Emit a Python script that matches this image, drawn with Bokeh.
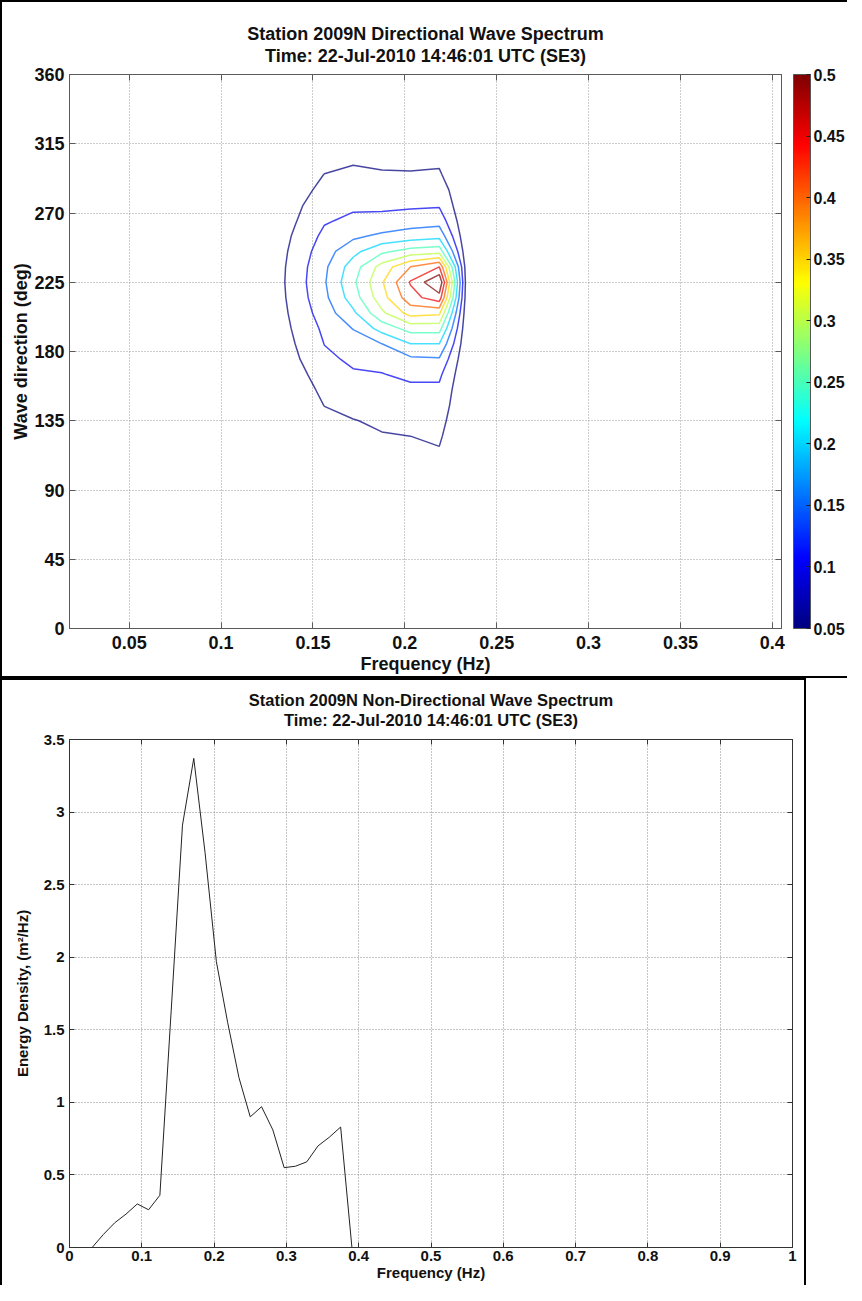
import numpy as np
from bokeh.plotting import figure
from bokeh.layouts import column
from bokeh.models import (LinearAxis, FixedTicker, CustomJSTickFormatter, ColorBar,
                          LinearColorMapper, Title, Range1d)
from bokeh.embed import file_html
from bokeh.resources import INLINE

FONT = "Liberation Sans"

# ---------------- Directional spectrum (top) ----------------
dir_freq = [0.109375, 0.125, 0.140625, 0.15625, 0.171875, 0.1875, 0.203125, 0.21875, 0.234375]
dir_deg = [95, 105, 115, 125, 135, 145, 155, 165, 175, 185, 195, 205,
           215, 225, 235, 245, 255, 265, 275, 285, 295, 305, 315, 325]
# one list per frequency column, values along dir_deg
col_0109 = [0.0] * 24
col_0125 = [0, 0, 0, 0, 0, 0, 0, 0.002, 0.004, 0.006, 0.008, 0.009,
            0.010, 0.011, 0.010, 0.009, 0.007, 0.005, 0.003, 0.001, 0, 0, 0, 0]
col_0141 = [0, 0, 0, 0, 0.005, 0.012, 0.022, 0.032, 0.043, 0.051, 0.058, 0.065,
            0.071, 0.074, 0.072, 0.066, 0.058, 0.048, 0.040, 0.028, 0.015, 0.005, 0, 0]
col_0156 = [0, 0.005, 0.012, 0.022, 0.035, 0.051, 0.062, 0.075, 0.090, 0.101, 0.110, 0.125,
            0.138, 0.145, 0.140, 0.128, 0.112, 0.095, 0.080, 0.065, 0.051, 0.030, 0.015, 0.005]
col_0172 = [0.010, 0.018, 0.025, 0.035, 0.048, 0.066, 0.082, 0.095, 0.108, 0.125, 0.152, 0.190,
            0.225, 0.240, 0.225, 0.185, 0.140, 0.110, 0.092, 0.078, 0.062, 0.042, 0.022, 0.010]
col_0188 = [0.018, 0.028, 0.038, 0.047, 0.058, 0.072, 0.085, 0.098, 0.115, 0.150, 0.220, 0.290,
            0.330, 0.345, 0.320, 0.240, 0.160, 0.115, 0.090, 0.070, 0.055, 0.038, 0.025, 0.012]
col_0203 = [0.020, 0.030, 0.040, 0.050, 0.062, 0.075, 0.090, 0.110, 0.140, 0.200, 0.270, 0.370,
            0.430, 0.455, 0.400, 0.270, 0.175, 0.125, 0.092, 0.070, 0.053, 0.040, 0.030, 0.015]
col_0219 = [0.025, 0.035, 0.047, 0.056, 0.066, 0.078, 0.090, 0.110, 0.145, 0.200, 0.270, 0.360,
            0.480, 0.550, 0.450, 0.280, 0.185, 0.130, 0.095, 0.075, 0.055, 0.042, 0.035, 0.020]
col_0234 = [0.0] * 24

levels = [0.05, 0.1, 0.15, 0.2, 0.25, 0.3, 0.35, 0.4, 0.45, 0.5]
top_xticks = [0.05, 0.1, 0.15, 0.2, 0.25, 0.3, 0.35, 0.4]
top_yticks = [0, 45, 90, 135, 180, 225, 270, 315, 360]
top_title = ["Station 2009N Directional Wave Spectrum",
             "Time: 22-Jul-2010 14:46:01 UTC (SE3)"]

# ---------------- Non-directional spectrum (bottom) ----------------
nd_freq = [0.03125, 0.046875, 0.0625, 0.078125, 0.09375, 0.109375, 0.125, 0.140625,
           0.15625, 0.171875, 0.1875, 0.203125, 0.21875, 0.234375, 0.25, 0.265625,
           0.28125, 0.296875, 0.3125, 0.328125, 0.34375, 0.359375, 0.375, 0.390625]
nd_energy = [0.0, 0.09, 0.17, 0.23, 0.30, 0.26, 0.36, 1.63,
             2.91, 3.37, 2.72, 1.97, 1.55, 1.17, 0.90, 0.97,
             0.81, 0.55, 0.56, 0.59, 0.70, 0.76, 0.83, 0.0]
bot_xticks = [0, 0.1, 0.2, 0.3, 0.4, 0.5, 0.6, 0.7, 0.8, 0.9, 1.0]
bot_yticks = [0, 0.5, 1, 1.5, 2, 2.5, 3, 3.5]
bot_title = ["Station 2009N Non-Directional Wave Spectrum",
             "Time: 22-Jul-2010 14:46:01 UTC (SE3)"]


def jet(t):
    t = min(max(t, 0.0), 1.0)
    r = min(max(1.5 - abs(4 * t - 3), 0), 1)
    g = min(max(1.5 - abs(4 * t - 2), 0), 1)
    b = min(max(1.5 - abs(4 * t - 1), 0), 1)
    return "#%02x%02x%02x" % (int(round(r * 255)), int(round(g * 255)), int(round(b * 255)))


palette = [jet(i / 255) for i in range(256)]
level_colors = [jet((L - levels[0]) / (levels[-1] - levels[0])) for L in levels]

fmt_code = "return (Math.round(tick*1000)/1000).toString();"


def style_axis(ax, size, tick_in, color):
    ax.major_label_text_font = FONT
    ax.major_label_text_font_size = size
    ax.major_label_text_font_style = "bold"
    ax.major_label_text_color = "#111111"
    ax.axis_label_text_font = FONT
    ax.axis_label_text_font_size = size
    ax.axis_label_text_font_style = "bold"
    ax.axis_label_text_color = "#111111"
    ax.major_tick_in = tick_in
    ax.major_tick_out = 0
    ax.minor_tick_in = 0
    ax.minor_tick_out = 0
    ax.axis_line_color = color
    ax.major_tick_line_color = color
    ax.formatter = CustomJSTickFormatter(code=fmt_code)


def mirror_axis(ticks, tick_in, color):
    # tick marks only (MATLAB box style); labels are not drawn
    ax = LinearAxis(ticker=FixedTicker(ticks=ticks))
    ax.major_label_text_font_size = "1px"
    ax.major_label_text_color = None
    ax.major_label_standoff = 0
    ax.major_tick_in = tick_in
    ax.major_tick_out = 0
    ax.minor_tick_in = 0
    ax.minor_tick_out = 0
    ax.axis_line_color = color
    ax.major_tick_line_color = color
    return ax


def add_titles(p, lines, size, lift):
    # second line closest to the frame, first line above it
    p.add_layout(Title(text=lines[1], align="center", text_font=FONT,
                       text_font_size=size, text_font_style="bold",
                       text_color="#111111", standoff=lift), "above")
    p.add_layout(Title(text=lines[0], align="center", text_font=FONT,
                       text_font_size=size, text_font_style="bold",
                       text_color="#111111", standoff=-lift), "above")


# ---------------- top figure ----------------
TOPC = "#5a5a5a"
p1 = figure(frame_width=712, frame_height=554,
            x_range=Range1d(0.0175, 0.405), y_range=Range1d(0, 360),
            min_border_left=69, min_border_right=65, min_border_top=74, min_border_bottom=50,
            output_backend="svg", toolbar_location=None, title=None,
            background_fill_color="white", border_fill_alpha=0.0)
p1.outline_line_color = TOPC
p1.xaxis.ticker = FixedTicker(ticks=top_xticks)
p1.yaxis.ticker = FixedTicker(ticks=top_yticks)
style_axis(p1.xaxis[0], "18px", 6, TOPC)
style_axis(p1.yaxis[0], "18px", 6, TOPC)
p1.xaxis.axis_label = "Frequency (Hz)"
p1.yaxis.axis_label = "Wave direction (deg)"
p1.xaxis.major_label_standoff = 7
p1.xaxis.axis_label_standoff = 2
p1.yaxis.major_label_standoff = 5
p1.yaxis.axis_label_standoff = 0
for g in (p1.xgrid, p1.ygrid):
    g.grid_line_color = "#9a9a9a"
    g.grid_line_dash = "1 2"
p1.xgrid.ticker = FixedTicker(ticks=top_xticks)
p1.ygrid.ticker = FixedTicker(ticks=top_yticks)

p1.add_layout(mirror_axis(top_xticks, 6, TOPC), "above")
p1.add_layout(mirror_axis(top_yticks, 6, TOPC), "right")

Z = np.column_stack([col_0109, col_0125, col_0141, col_0156, col_0172,
                     col_0188, col_0203, col_0219, col_0234])
p1.contour(x=dir_freq, y=dir_deg, z=Z, levels=levels,
           line_color=level_colors, line_width=1.5, line_alpha=0.72)

mapper = LinearColorMapper(palette=palette, low=levels[0], high=levels[-1])
cb = ColorBar(color_mapper=mapper, width=17, margin=0, padding=0, location=(12, 0),
              ticker=FixedTicker(ticks=levels),
              formatter=CustomJSTickFormatter(code=fmt_code),
              major_label_text_font=FONT, major_label_text_font_size="16px",
              major_label_text_font_style="bold", major_label_text_color="#111111",
              label_standoff=3, major_tick_in=4, major_tick_out=0,
              major_tick_line_color="#222222", bar_line_color="#555555",
              border_line_color=None, background_fill_alpha=0.0)
p1.add_layout(cb, "right")

add_titles(p1, top_title, "18px", 18)
p1.styles = {"box-shadow": "inset 2px 2px 0 0 #000000, inset 0 -2px 0 0 #000000"}

# ---------------- bottom figure ----------------
BOTC = "#333333"
p2 = figure(frame_width=723, frame_height=508,
            x_range=Range1d(0, 1), y_range=Range1d(0, 3.5),
            min_border_left=64, min_border_right=19, min_border_top=61, min_border_bottom=38,
            output_backend="svg", toolbar_location=None, title=None,
            background_fill_color="white", border_fill_alpha=0.0)
p2.outline_line_color = BOTC
p2.xaxis.ticker = FixedTicker(ticks=bot_xticks)
p2.yaxis.ticker = FixedTicker(ticks=bot_yticks)
style_axis(p2.xaxis[0], "15px", 5, BOTC)
style_axis(p2.yaxis[0], "15px", 5, BOTC)
p2.xaxis.axis_label = "Frequency (Hz)"
p2.yaxis.axis_label = "Energy Density, (m\u00b2/Hz)"
p2.xaxis.major_label_standoff = 3
p2.xaxis.axis_label_standoff = 0
p2.yaxis.major_label_standoff = 5
p2.yaxis.axis_label_standoff = 10
for g in (p2.xgrid, p2.ygrid):
    g.grid_line_color = "#8a8a8a"
    g.grid_line_dash = "1 2"
p2.xgrid.ticker = FixedTicker(ticks=bot_xticks)
p2.ygrid.ticker = FixedTicker(ticks=bot_yticks)
p2.add_layout(mirror_axis(bot_xticks, 5, BOTC), "above")
p2.add_layout(mirror_axis(bot_yticks, 5, BOTC), "right")

p2.line(nd_freq, nd_energy, line_color="#222222", line_width=1)

add_titles(p2, bot_title, "16.5px", 22)
p2.styles = {"box-shadow": "inset 2px 2px 0 0 #000000, inset -2px 0 0 0 #000000"}

layout = column(p1, p2, spacing=0)
open("out.html", "w").write(file_html(layout, INLINE))
